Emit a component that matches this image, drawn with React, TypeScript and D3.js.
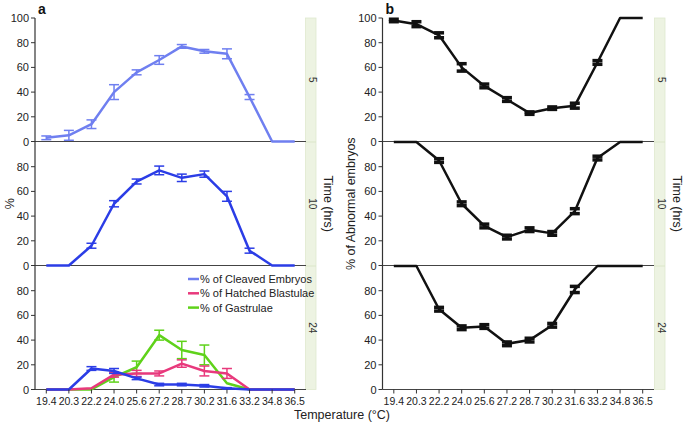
import React from "react";
import * as d3 from "d3";

const temps = ["19.4", "20.3", "22.2", "24.0", "25.6", "27.2", "28.7", "30.2", "31.6", "33.2", "34.8", "36.5"];
const timeLabels = ["5", "10", "24"];
const yTicks = [0, 20, 40, 60, 80, 100];

const cleaved5 = [3, 5, 14, 40, 56, 66, 77, 73, 71, 36, 0, 0];
const cleaved5Err = [1.5, 4, 3.5, 6, 2, 3.5, 1.5, 1.5, 4, 2, 0, 0];
const cleaved10 = [0, 0, 16, 50, 68, 77, 71, 74, 56, 12, 0, 0];
const cleaved10Err = [0, 0, 2, 2.5, 2, 3.5, 3, 2.5, 4, 2, 0, 0];
const cleaved24 = [0, 0, 17, 15, 9, 4, 4, 3, 1, 0, 0, 0];
const cleaved24Err = [0, 0, 1.5, 2, 1, 1, 1, 1, 0.5, 0, 0, 0];
const hatched24 = [0, 0, 1, 12, 13, 13, 21, 15, 13, 0, 0, 0];
const hatched24Err = [0, 0, 0, 2, 2.5, 2, 3, 4, 4, 0, 0, 0];
const gastrulae24 = [0, 0, 0, 10, 18, 44, 32, 28, 5, 0, 0, 0];
const gastrulae24Err = [0, 0, 0, 4, 5, 4, 7, 8, 0, 0, 0, 0];

const abnormal5 = [98, 95, 86, 60, 45, 34, 23, 27, 29, 64, 100, 100];
const abnormal5Err = [1, 2, 2, 3, 1.5, 1.5, 1, 1, 2, 1.5, 0, 0];
const abnormal10 = [100, 100, 85, 50, 32, 23, 29, 26, 44, 87, 100, 100];
const abnormal10Err = [0, 0, 1.5, 1.5, 1.5, 1.5, 1.5, 1.5, 2, 1.5, 0, 0];
const abnormal24 = [100, 100, 65, 50, 51, 37, 40, 52, 81, 100, 100, 100];
const abnormal24Err = [0, 0, 1.5, 1.5, 1.5, 1.5, 1.5, 1.5, 2.5, 0, 0, 0];

const legendLabels = ["% of Cleaved Embryos", "% of Hatched Blastulae", "% of Gastrulae"];

const FONT = "Liberation Sans, Arial, sans-serif";
const panelTops = [18, 142, 266];
const panelH = 123.5;

type Series = { values: number[]; errs: number[]; color: string; width: number; capW: number; capSW: number; barSW: number };

function Panel({ x0, x1, stripX, rows, label, yTitle, titleX, timeTitleX }: any) {
  const x = d3.scalePoint<string>().domain(temps).range([x0, x1]).padding(0.5);
  const bottom = panelTops[2] + panelH;
  return (
    <g>
      <text x={x0 + 3} y={14} fontFamily={FONT} fontWeight="bold" fontSize={14} fill="#111">{label}</text>
      {/* strip */}
      <rect x={stripX} y={panelTops[0]} width={10.5} height={bottom - panelTops[0]} fill="#edf3e2" stroke="#dfe9cf" strokeWidth={0.8} />
      {panelTops.map((t, i) => (
        <g key={i}>
          {i > 0 && <line x1={stripX} x2={stripX + 10.5} y1={t} y2={t} stroke="#dbe6c9" strokeWidth={1} />}
          <text transform={`translate(${stripX + 3},${t + panelH / 2}) rotate(90)`} textAnchor="middle" fontFamily={FONT} fontSize={10} fill="#333">{timeLabels[i]}</text>
        </g>
      ))}
      {rows.map((series: Series[], i: number) => {
        const top = panelTops[i];
        const y = d3.scaleLinear().domain([0, 100]).range([top + panelH, top]);
        const line = d3.line<number>().x((_, j) => x(temps[j])!).y((d) => y(d));
        const ticks = i === 0 ? yTicks : yTicks.slice(0, 5);
        return (
          <g key={i}>
            {ticks.map((t) => (
              <g key={t}>
                <line x1={x0 - 4} x2={x0} y1={y(t)} y2={y(t)} stroke="#333" strokeWidth={1} />
                <text x={x0 - 6} y={y(t) + 4} textAnchor="end" fontFamily={FONT} fontSize={11} fill="#222">{t}</text>
              </g>
            ))}
            <line x1={x0} x2={x1} y1={y(0)} y2={y(0)} stroke="#444" strokeWidth={1.2} />
            {series.map((s, k) => (
              <g key={k}>
                <path d={line(s.values) || ""} fill="none" stroke={s.color} strokeWidth={s.width} strokeLinejoin="round" />
                {s.values.map((v, j) => {
                  const e = s.errs[j];
                  if (!e) return null;
                  const cx = x(temps[j])!;
                  return (
                    <g key={j} stroke={s.color}>
                      <line x1={cx} x2={cx} y1={y(v - e)} y2={y(v + e)} strokeWidth={s.barSW} />
                      <line x1={cx - s.capW / 2} x2={cx + s.capW / 2} y1={y(v - e)} y2={y(v - e)} strokeWidth={s.capSW} />
                      <line x1={cx - s.capW / 2} x2={cx + s.capW / 2} y1={y(v + e)} y2={y(v + e)} strokeWidth={s.capSW} />
                    </g>
                  );
                })}
              </g>
            ))}
          </g>
        );
      })}
      <line x1={x0} x2={x0} y1={panelTops[0]} y2={bottom} stroke="#333" strokeWidth={1.2} />
      {temps.map((t) => (
        <g key={t}>
          <line x1={x(t)!} x2={x(t)!} y1={bottom} y2={bottom + 4} stroke="#333" strokeWidth={1} />
          <text x={x(t)!} y={bottom + 15} textAnchor="middle" fontFamily={FONT} fontSize={10.5} fill="#222">{t}</text>
        </g>
      ))}
      <text transform={`translate(${titleX},${(panelTops[0] + bottom) / 2}) rotate(-90)`} textAnchor="middle" fontFamily={FONT} fontSize={12.5} fill="#222">{yTitle}</text>
      <text transform={`translate(${timeTitleX},${(panelTops[0] + bottom) / 2}) rotate(90)`} textAnchor="middle" fontFamily={FONT} fontSize={12.5} fill="#222">Time (hrs)</text>
    </g>
  );
}

export default function App() {
  const aStyle = { width: 2.5, capW: 10, capSW: 1.5, barSW: 1.5 };
  const bStyle = { width: 2.5, capW: 10, capSW: 3.5, barSW: 2 };
  const lightBlue = "#6f7ff0";
  const blue = "#2b3de6";
  const pink = "#e8397c";
  const green = "#5fd21a";
  const rowsA = [
    [{ values: cleaved5, errs: cleaved5Err, color: lightBlue, ...aStyle }],
    [{ values: cleaved10, errs: cleaved10Err, color: blue, ...aStyle }],
    [
      { values: gastrulae24, errs: gastrulae24Err, color: green, ...aStyle },
      { values: hatched24, errs: hatched24Err, color: pink, ...aStyle },
      { values: cleaved24, errs: cleaved24Err, color: blue, ...aStyle },
    ],
  ];
  const rowsB = [
    [{ values: abnormal5, errs: abnormal5Err, color: "#111", ...bStyle }],
    [{ values: abnormal10, errs: abnormal10Err, color: "#111", ...bStyle }],
    [{ values: abnormal24, errs: abnormal24Err, color: "#111", ...bStyle }],
  ];
  const legendColors = [lightBlue, pink, green];
  return (
    <svg width={685} height={425} style={{ position: "absolute", left: 0, top: 0, background: "#fff" }}>
      <Panel x0={35} x1={306} stripX={305.5} rows={rowsA} label="a" yTitle="%" titleX={14} timeTitleX={324} />
      <Panel x0={382.5} x1={654} stripX={654.5} rows={rowsB} label="b" yTitle="% of Abnormal embryos" titleX={355} timeTitleX={673} />
      {legendLabels.map((l, i) => (
        <g key={l}>
          <line x1={188} x2={199} y1={279 + i * 14.3} y2={279 + i * 14.3} stroke={legendColors[i]} strokeWidth={2.5} />
          <text x={200} y={283 + i * 14.3} fontFamily={FONT} fontSize={11} fill="#222">{l}</text>
        </g>
      ))}
      <text x={342} y={419} textAnchor="middle" fontFamily={FONT} fontSize={12.5} fill="#222">Temperature (°C)</text>
    </svg>
  );
}
